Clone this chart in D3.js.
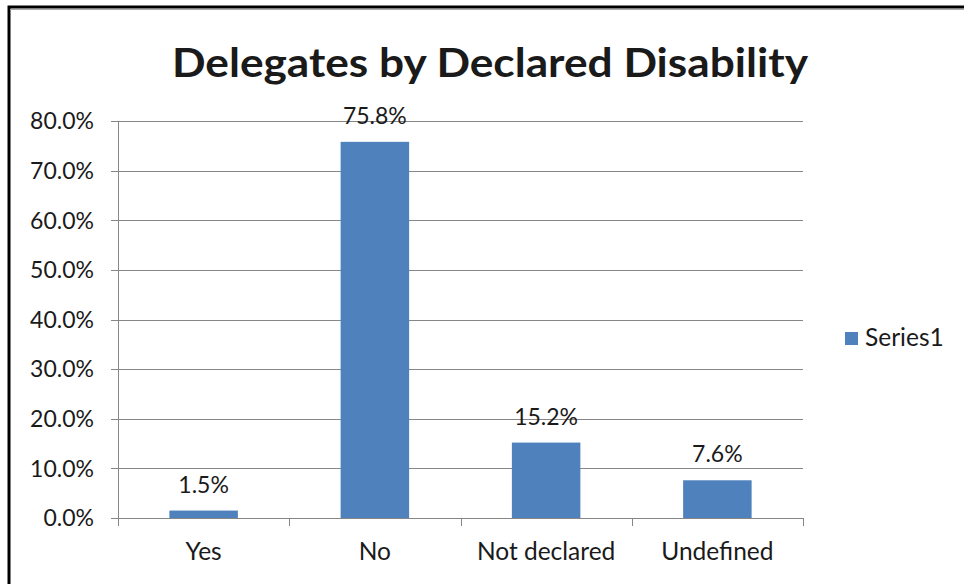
<!DOCTYPE html>
<html>
<head>
<meta charset="utf-8">
<script src="https://cdn.jsdelivr.net/npm/d3@7"></script>
<style>
  html, body { margin: 0; padding: 0; background: #fff; }
  svg { display: block; }
  text { font-family: Lato, "Open Sans", sans-serif; fill: #1a1a1a; }
</style>
</head>
<body>
<svg id="chart" width="964" height="584"></svg>
<script>
const categories = ["Yes", "No", "Not declared", "Undefined"];
const series1 = [0.015, 0.758, 0.152, 0.076];
const yTicks = [0, 0.1, 0.2, 0.3, 0.4, 0.5, 0.6, 0.7, 0.8];
const seriesName = "Series1";
const titleText = "Delegates by Declared Disability";

const svg = d3.select("#chart");
const W = 964, H = 584;
const plot = { left: 118, right: 803, top: 121, bottom: 518 };
const barColor = "#4F81BD";
const numSize = 23, wordSize = 24.5;

// outer chart frame (left and top edges visible)
svg.append("rect")
  .attr("x", 9).attr("y", 7)
  .attr("width", W + 20).attr("height", H + 20)
  .attr("fill", "none").attr("stroke", "#000").attr("stroke-width", 3);
svg.append("line")
  .attr("x1", 10).attr("x2", W).attr("y1", 9.5).attr("y2", 9.5)
  .attr("stroke", "#aaa").attr("stroke-width", 1);

const x = d3.scaleBand()
  .domain(categories)
  .range([plot.left, plot.right])
  .paddingInner(0.6).paddingOuter(0.3);

const xCat = d3.scaleBand().domain(categories).range([plot.left, plot.right]);

const y = d3.scaleLinear().domain([0, 0.8]).range([plot.bottom, plot.top]);

// horizontal gridlines
svg.append("g")
  .selectAll("line")
  .data(yTicks)
  .join("line")
  .attr("x1", plot.left - 7).attr("x2", plot.right)
  .attr("y1", d => Math.round(y(d)) + 0.5).attr("y2", d => Math.round(y(d)) + 0.5)
  .attr("stroke", "#868686").attr("stroke-width", 1);

// y axis line
svg.append("line")
  .attr("x1", plot.left + 0.5).attr("x2", plot.left + 0.5)
  .attr("y1", plot.top).attr("y2", plot.bottom)
  .attr("stroke", "#868686");

// y tick labels
svg.append("g")
  .selectAll("text")
  .data(yTicks)
  .join("text")
  .attr("x", plot.left - 24)
  .attr("y", d => y(d))
  .attr("dy", "0.36em")
  .attr("text-anchor", "end")
  .attr("font-size", numSize)
  .text(d => d3.format(".1%")(d));

// bars
svg.append("g")
  .selectAll("rect")
  .data(categories)
  .join("rect")
  .attr("x", d => x(d))
  .attr("width", x.bandwidth())
  .attr("y", (d, i) => y(series1[i]))
  .attr("height", (d, i) => plot.bottom - y(series1[i]))
  .attr("fill", barColor);

// x axis line and category separators
svg.append("line")
  .attr("x1", plot.left).attr("x2", plot.right)
  .attr("y1", plot.bottom + 0.5).attr("y2", plot.bottom + 0.5)
  .attr("stroke", "#868686");
const sepPositions = categories.map(c => xCat(c)).concat([plot.right]);
svg.append("g")
  .selectAll("line")
  .data(sepPositions)
  .join("line")
  .attr("x1", d => Math.round(d) + 0.5).attr("x2", d => Math.round(d) + 0.5)
  .attr("y1", plot.bottom).attr("y2", plot.bottom + 8)
  .attr("stroke", "#868686");

// category labels
svg.append("g")
  .selectAll("text")
  .data(categories)
  .join("text")
  .attr("x", d => xCat(d) + xCat.bandwidth() / 2)
  .attr("y", 560)
  .attr("text-anchor", "middle")
  .attr("font-size", wordSize)
  .text(d => d);

// value labels
svg.append("g")
  .selectAll("text")
  .data(categories)
  .join("text")
  .attr("x", d => x(d) + x.bandwidth() / 2)
  .attr("y", (d, i) => y(series1[i]) - 18)
  .attr("text-anchor", "middle")
  .attr("font-size", numSize)
  .text((d, i) => d3.format(".1%")(series1[i]));

// title
svg.append("text")
  .attr("x", 490).attr("y", 77)
  .attr("text-anchor", "middle")
  .attr("font-size", 40)
  .attr("font-weight", "bold")
  .attr("textLength", 636)
  .attr("lengthAdjust", "spacingAndGlyphs")
  .text(titleText);

// legend
const legend = svg.append("g").attr("transform", "translate(845,332)");
legend.append("rect").attr("width", 13).attr("height", 13).attr("fill", barColor);
legend.append("text").attr("x", 20).attr("y", 14).attr("font-size", wordSize).text(seriesName);
</script>
</body>
</html>
